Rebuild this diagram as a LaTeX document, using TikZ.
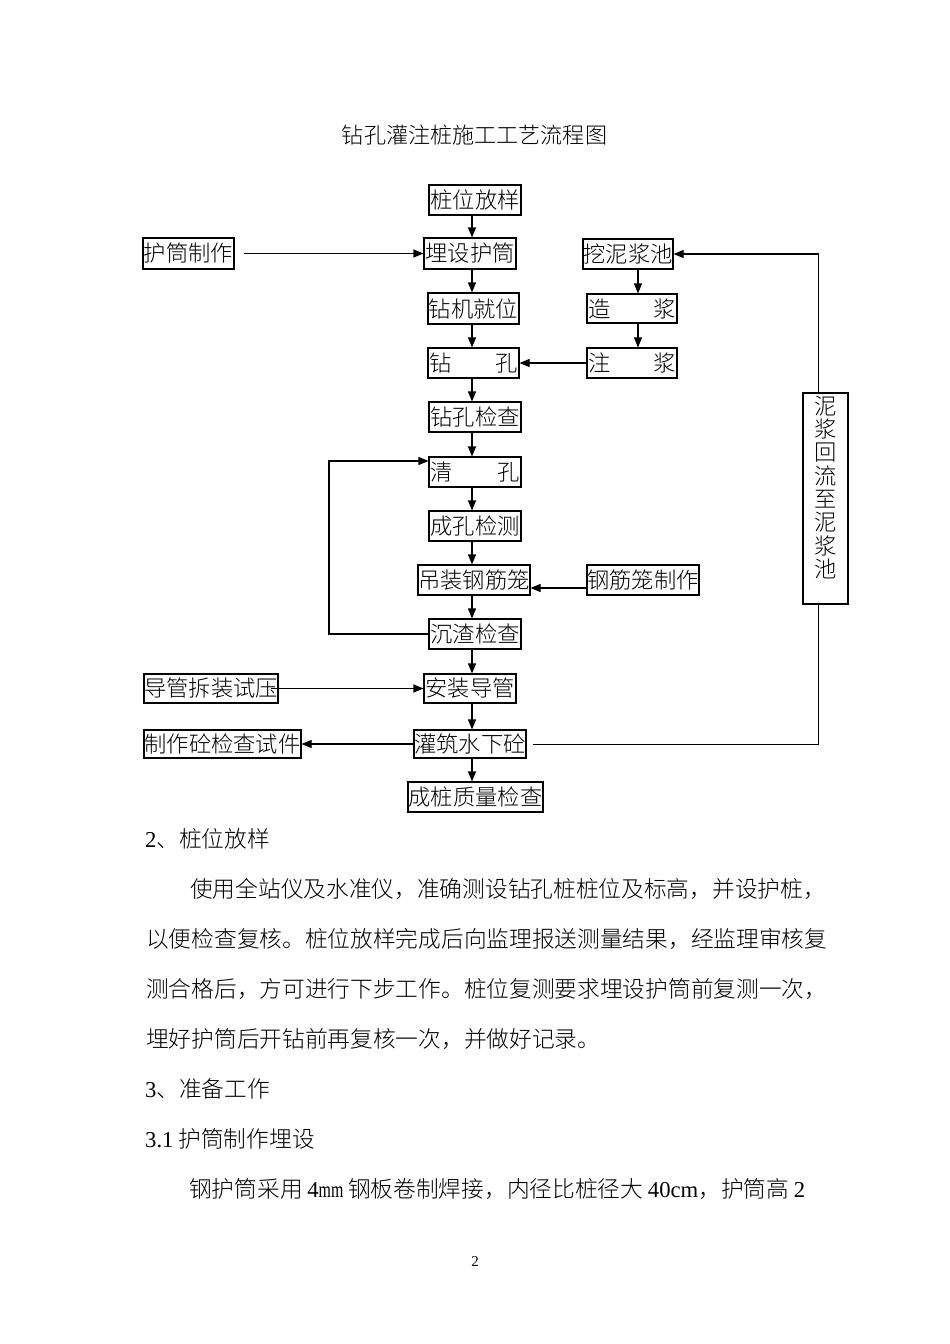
\documentclass[tikz,border=0pt]{standalone}
\usepackage{fontspec}
\usepackage{graphicx}
\IfFontExistsTF{Noto Sans CJK SC Light}
  {\setmainfont{Noto Sans CJK SC Light}}
  {\setmainfont{Noto Sans CJK SC}}
\newfontfamily\latserif{Liberation Serif}
\usetikzlibrary{arrows.meta}
\newcommand\bodyfont{\fontsize{22.7pt}{27pt}\selectfont}
\newcommand\boxfont{\fontsize{22.3pt}{26pt}\selectfont}
\newcommand\lat[1]{{\latserif #1}}
\begin{document}
\begin{tikzpicture}[x=1pt,y=-1pt,
  box/.style={draw, line width=1.1pt, inner sep=0pt, font=\boxfont},
  arr/.style={line width=1.1pt, -{Triangle[length=10pt,width=8pt]}},
  ln/.style={line width=1pt},
  txt/.style={anchor=base west, inner sep=0pt, font=\bodyfont}]
\fill[white] (0,0) rectangle (950,1344);
\useasboundingbox (0,0) rectangle (950,1344);

% title
\node[anchor=base, inner sep=0pt, font=\fontsize{22.1pt}{26pt}\selectfont] (title) at (474.5,143) {钻孔灌注桩施工工艺流程图};

% helper coordinates
\coordinate (ax) at (472,0);
\coordinate (bx) at (638,0);
\coordinate (rx) at (818.5,0);
\coordinate (lx) at (329,0);

% main column
\node[box, minimum width=92pt, minimum height=30pt] (n1) at (475,200) {桩位放样};
\node[box, minimum width=92pt, minimum height=31pt] (n2) at (470,253.5) {埋设护筒};
\node[box, minimum width=91pt, minimum height=31pt] (n3) at (473.5,308.5) {钻机就位};
\node[box, minimum width=91pt, minimum height=30pt] (n4) at (473.5,363) {\hbox to 89pt{钻\hfill 孔}};
\node[box, minimum width=92pt, minimum height=30pt] (n5) at (475,417) {钻孔检查};
\node[box, minimum width=92pt, minimum height=30pt] (n6) at (475,472) {\hbox to 90pt{清\hfill 孔}};
\node[box, minimum width=92pt, minimum height=30pt] (n7) at (475,526) {成孔检测};
\node[box, minimum width=112pt, minimum height=30pt] (n8) at (474,580) {吊装钢筋笼};
\node[box, minimum width=92pt, minimum height=30pt] (n9) at (475,634) {沉渣检查};
\node[box, minimum width=92pt, minimum height=29pt] (n10) at (470,688.5) {安装导管};
\node[box, minimum width=112pt, minimum height=28pt] (n11) at (470,744) {灌筑水下砼};
\node[box, minimum width=135pt, minimum height=30pt] (n12) at (475.5,797) {成桩质量检查};

% side boxes
\node[box, minimum width=91pt, minimum height=31pt] (s1) at (188.5,253.5) {护筒制作};
\node[box, minimum width=134pt, minimum height=29pt] (s2) at (211,688.5) {导管拆装试压};
\node[box, minimum width=157pt, minimum height=28pt] (s3) at (222.5,744) {制作砼检查试件};
\node[box, minimum width=90pt, minimum height=30pt] (r1) at (628,254) {挖泥浆池};
\node[box, minimum width=90pt, minimum height=29pt] (r2) at (632,308.5) {\hbox to 88pt{造\hfill 浆}};
\node[box, minimum width=90pt, minimum height=30pt] (r3) at (632,363) {\hbox to 88pt{注\hfill 浆}};
\node[box, minimum width=112pt, minimum height=30pt] (r4) at (643,580) {钢筋笼制作};
\node[box, minimum width=45pt, minimum height=211pt] (nj) at (825.5,498.5)
  {\vbox to 205pt{\hsize=22.3pt\parindent=0pt\topskip=20pt\baselineskip=23.3pt\lineskiplimit=-100pt\lineskip=0pt
   泥\par 浆\par 回\par 流\par 至\par 泥\par 浆\par 池\par\vfill}};

% main vertical arrows
\foreach \a/\b in {n1/n2,n2/n3,n3/n4,n4/n5,n5/n6,n6/n7,n7/n8,n8/n9,n9/n10,n10/n11,n11/n12}
  \draw[arr] (\a.south -| ax) -- (\b.north -| ax);
% right column
\draw[arr] (r1.south -| bx) -- (r2.north -| bx);
\draw[arr] (r2.south -| bx) -- (r3.north -| bx);
\draw[arr] (r3.west) -- (r3.west -| n4.east);
% side inputs
\draw[arr] ([xshift=9pt]s1.east) -- (s1.east -| n2.west);
\draw[arr] ([yshift=-8pt]r4.west) -- ([yshift=-8pt]r4.west -| n8.east);
\draw[arr] ([xshift=-8pt]s2.east) -- (s2.east -| n10.west);
\draw[arr] (n11.west) -- (n11.west -| s3.east);
% loop back from 沉渣检查 to 清孔
\draw[arr] (n9.west) -- (n9.west -| lx) |- ([yshift=11pt]n6.west);
% mud return
\draw[arr] (nj.north -| rx) |- (r1.east);
\draw[ln] ([xshift=6pt]n11.east) -| (nj.south -| rx);

% body text
\node[txt] (t1) at (145,847) {\lat{2}、桩位放样};
\node[txt] (t2) at (190,897) {使用全站仪及水准仪，准确测设钻孔桩桩位及标高，并设护桩，};
\node[txt] (t3) at (146,947) {以便检查复核。桩位放样完成后向监理报送测量结果，经监理审核复};
\node[txt] (t4) at (146,997) {测合格后，方可进行下步工作。桩位复测要求埋设护筒前复测一次，};
\node[txt] (t5) at (146,1047) {埋好护筒后开钻前再复核一次，并做好记录。};
\node[txt] (t6) at (145,1097) {\lat{3}、准备工作};
\node[txt] (t7) at (145,1147) {\lat{3.1} 护筒制作埋设};
\node[txt] (t8) at (189,1197) {\hbox to 616pt{\spaceskip=1pt plus 20pt\relax 钢护筒采用 \lat{4\scalebox{0.7}[1]{mm}} 钢板卷制焊接，内径比桩径大 \lat{40cm}，护筒高 \lat{2}}};
\node[anchor=base, inner sep=0pt, font=\fontsize{15pt}{18pt}\latserif] (pg) at (475,1266) {2};
\end{tikzpicture}
\end{document}
